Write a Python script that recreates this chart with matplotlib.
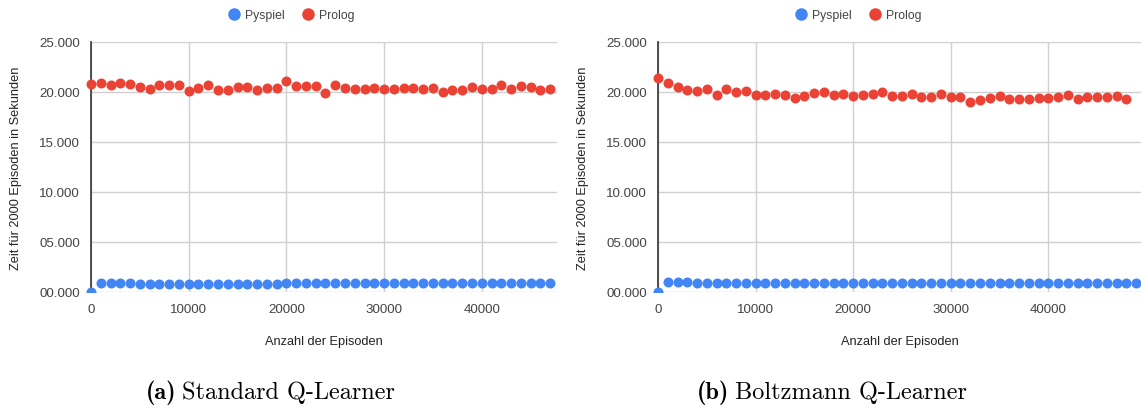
import numpy as np
import matplotlib.pyplot as plt
from matplotlib.patches import Rectangle
from matplotlib.ticker import FuncFormatter

# Episoden (x-Werte)
episodes_a = list(range(0, 48000, 1000))
episodes_b_red = list(range(0, 49000, 1000))
episodes_b_blue = list(range(0, 50000, 1000))

# (a) Standard Q-Learner
prolog_a = [20830, 20900, 20700, 20870, 20770, 20470, 20300, 20730, 20700, 20700,
            20130, 20400, 20670, 20230, 20170, 20500, 20500, 20230, 20400, 20370,
            21070, 20630, 20600, 20630, 19930, 20730, 20430, 20300, 20300, 20400,
            20330, 20300, 20430, 20370, 20330, 20430, 19970, 20230, 20200, 20500,
            20300, 20300, 20730, 20330, 20570, 20470, 20170, 20270]
pyspiel_a = [0, 860, 860, 860, 860, 850, 850, 850, 850, 850,
             850, 850, 850, 850, 850, 850, 850, 850, 850, 850,
             910, 860, 860, 930, 880, 880, 880, 860, 860, 860,
             860, 860, 880, 860, 900, 930, 880, 860, 860, 860,
             910, 880, 860, 860, 860, 860, 860, 860]

# (b) Boltzmann Q-Learner
prolog_b = [21430, 20870, 20470, 20230, 20130, 20270, 19730, 20270, 20000, 20100,
            19730, 19700, 19800, 19700, 19370, 19570, 19870, 20030, 19730, 19800,
            19570, 19700, 19830, 19970, 19630, 19570, 19770, 19500, 19500, 19830,
            19470, 19470, 19000, 19230, 19430, 19570, 19330, 19330, 19330, 19400,
            19400, 19500, 19730, 19330, 19500, 19470, 19530, 19600, 19270]
pyspiel_b = [0, 980, 980, 960, 940, 930, 920, 910, 900, 900,
             900, 900, 900, 910, 920, 910, 920, 930, 910, 900,
             880, 880, 880, 870, 870, 870, 870, 870, 870, 860,
             860, 860, 860, 860, 860, 860, 870, 870, 870, 870,
             870, 870, 870, 870, 880, 880, 880, 880, 880, 880]

BLUE = '#4285F4'
RED = '#EA4335'
plt.rcParams['font.family'] = ['Liberation Sans', 'DejaVu Sans']

fig = plt.figure(figsize=(11.41, 4.10), dpi=100)
W, H = 1141, 410


def panel(x0, x1, xmax, xs_blue, blue, xs_red, red, caption_tag, caption, cap_x, leg_x):
    ax = fig.add_axes([x0 / W, 1 - 293 / H, (x1 - x0) / W, 250 / H])
    clip = Rectangle((-0.05, 0), 1.05, 1.2, transform=ax.transAxes)
    for xs, ys, c in [(xs_blue, blue, BLUE), (xs_red, red, RED)]:
        sc = ax.scatter(xs, ys, s=52, color=c, linewidths=0, zorder=3)
        sc.set_clip_path(clip)
    ax.set_xlim(0, xmax)
    ax.set_ylim(0, 25000)
    ax.set_xticks([0, 10000, 20000, 30000, 40000])
    ax.set_yticks(np.arange(0, 25001, 5000))
    ax.yaxis.set_major_formatter(FuncFormatter(lambda v, p: f"{int(v / 1000):02d}.000"))
    ax.grid(True, color='#d0d0d0', linewidth=1)
    ax.set_axisbelow(True)
    for s in ['top', 'right', 'bottom']:
        ax.spines[s].set_visible(False)
    ax.spines['left'].set_color('#333333')
    ax.spines['left'].set_linewidth(1.2)
    ax.spines['left'].set_zorder(2.5)
    ax.tick_params(length=0, labelsize=9.6, labelcolor='#444444', pad=8)
    ax.set_xlabel('Anzahl der Episoden', fontsize=9.2, color='#222222', labelpad=14)
    ax.set_ylabel('Zeit für 2000 Episoden in Sekunden', fontsize=9.2, color='#222222', labelpad=12)
    # Legende oben
    leg = fig.legend(handles=[
        plt.Line2D([], [], marker='o', ls='', color=BLUE, markersize=8, label='Pyspiel'),
        plt.Line2D([], [], marker='o', ls='', color=RED, markersize=8, label='Prolog')],
        loc='center', bbox_to_anchor=(leg_x / W, 1 - 16 / H), ncol=2, frameon=False,
        fontsize=8.8, handletextpad=0.3, columnspacing=1.3, borderaxespad=0,
        handlelength=1.2)
    for t in leg.get_texts():
        t.set_color('#444444')
    fig.text(cap_x / W, 1 - 393 / H, caption_tag, family='cmb10', fontsize=17.5,
             ha='right', va='center')
    fig.text(cap_x / W + 0.005, 1 - 393 / H, caption, family='cmr10', fontsize=17.5,
             ha='left', va='center')
    return ax


panel(91, 557, 47700, episodes_a, pyspiel_a, episodes_a, prolog_a,
      '(a)', 'Standard Q-Learner', 176, 291)
panel(658, 1141, 49500, episodes_b_blue, pyspiel_b, episodes_b_red, prolog_b,
      '(b)', 'Boltzmann Q-Learner', 729, 858)

fig.savefig('out.png', dpi=100)
